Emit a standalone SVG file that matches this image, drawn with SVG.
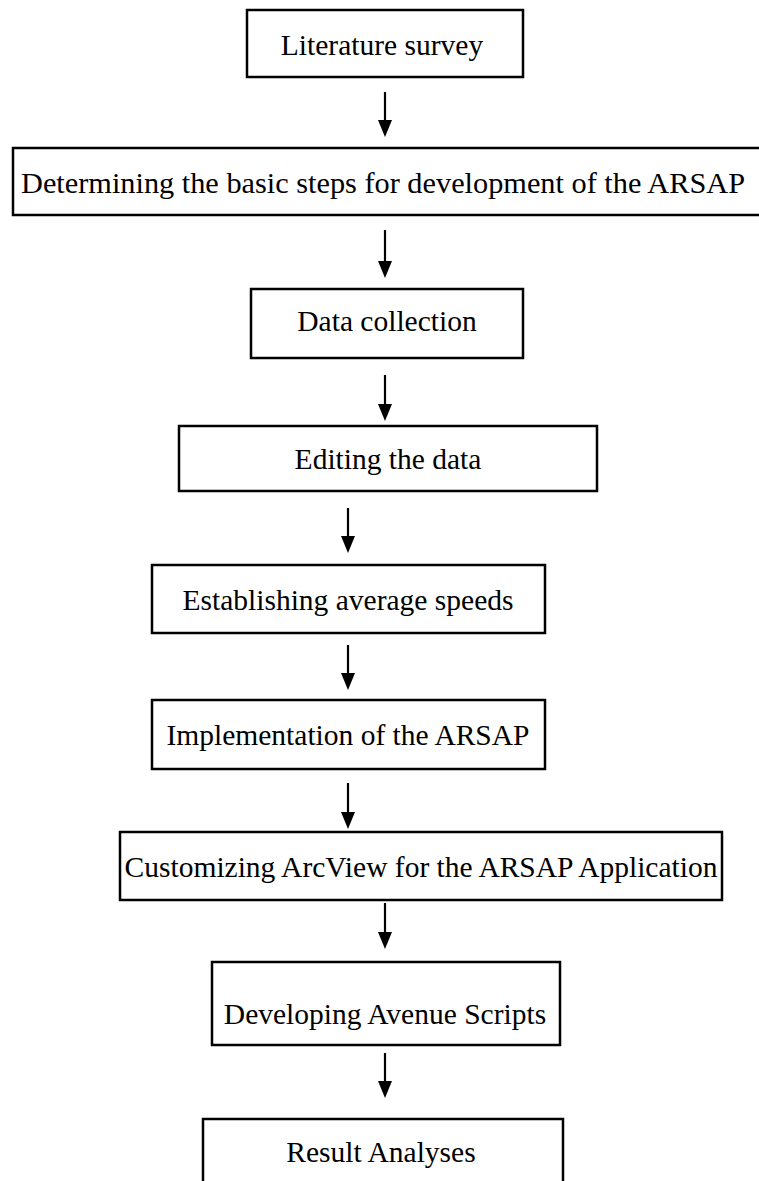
<svg xmlns="http://www.w3.org/2000/svg" width="759" height="1181" viewBox="0 0 759 1181">
  <defs>
    <style>
      .box { fill: #ffffff; stroke: #000000; stroke-width: 2.5; }
      .label { font-family: "Liberation Serif", "Times New Roman", serif; font-size: 29.5px; fill: #000000; text-anchor: middle; }
      .shaft { stroke: #000000; stroke-width: 2.2; }
      .head { fill: #000000; }
    </style>
  </defs>
  <rect width="759" height="1181" fill="#ffffff"/>

  <!-- process steps -->
  <g id="node-literature">
    <rect class="box" x="247" y="10" width="276" height="67"/>
    <text class="label" x="382" y="55">Literature survey</text>
  </g>
  <g id="node-determining">
    <rect class="box" x="13" y="148" width="752" height="67"/>
    <text class="label" x="383" y="193" textLength="724" lengthAdjust="spacingAndGlyphs">Determining the basic steps for development of the ARSAP</text>
  </g>
  <g id="node-data-collection">
    <rect class="box" x="251" y="289" width="272" height="69"/>
    <text class="label" x="387" y="331">Data collection</text>
  </g>
  <g id="node-editing">
    <rect class="box" x="179" y="426" width="418" height="65"/>
    <text class="label" x="388" y="469">Editing the data</text>
  </g>
  <g id="node-speeds">
    <rect class="box" x="152" y="565" width="393" height="68"/>
    <text class="label" x="348" y="610">Establishing average speeds</text>
  </g>
  <g id="node-implementation">
    <rect class="box" x="152" y="700" width="393" height="69"/>
    <text class="label" x="348" y="745">Implementation of the ARSAP</text>
  </g>
  <g id="node-customizing">
    <rect class="box" x="120" y="832" width="602" height="68"/>
    <text class="label" x="421" y="877">Customizing ArcView for the ARSAP Application</text>
  </g>
  <g id="node-scripts">
    <rect class="box" x="212" y="962" width="348" height="83"/>
    <text class="label" x="385" y="1024">Developing Avenue Scripts</text>
  </g>
  <g id="node-results">
    <rect class="box" x="203" y="1119" width="360" height="80"/>
    <text class="label" x="381" y="1162">Result Analyses</text>
  </g>

  <!-- connectors: vertical shafts with filled triangular heads -->
  <g id="connectors">
    <line class="shaft" x1="385" y1="92" x2="385" y2="122"/>
    <polygon class="head" points="378,120 392,120 385,137"/>
    <line class="shaft" x1="385" y1="230" x2="385" y2="263"/>
    <polygon class="head" points="378,261 392,261 385,278"/>
    <line class="shaft" x1="385" y1="375" x2="385" y2="406"/>
    <polygon class="head" points="378,404 392,404 385,421"/>
    <line class="shaft" x1="348" y1="508" x2="348" y2="538"/>
    <polygon class="head" points="341,536 355,536 348,553"/>
    <line class="shaft" x1="348" y1="645" x2="348" y2="675"/>
    <polygon class="head" points="341,673 355,673 348,690"/>
    <line class="shaft" x1="348" y1="783" x2="348" y2="814"/>
    <polygon class="head" points="341,812 355,812 348,829"/>
    <line class="shaft" x1="385" y1="903" x2="385" y2="934"/>
    <polygon class="head" points="378,932 392,932 385,949"/>
    <line class="shaft" x1="385" y1="1053" x2="385" y2="1083"/>
    <polygon class="head" points="378,1081 392,1081 385,1098"/>
  </g>
</svg>
